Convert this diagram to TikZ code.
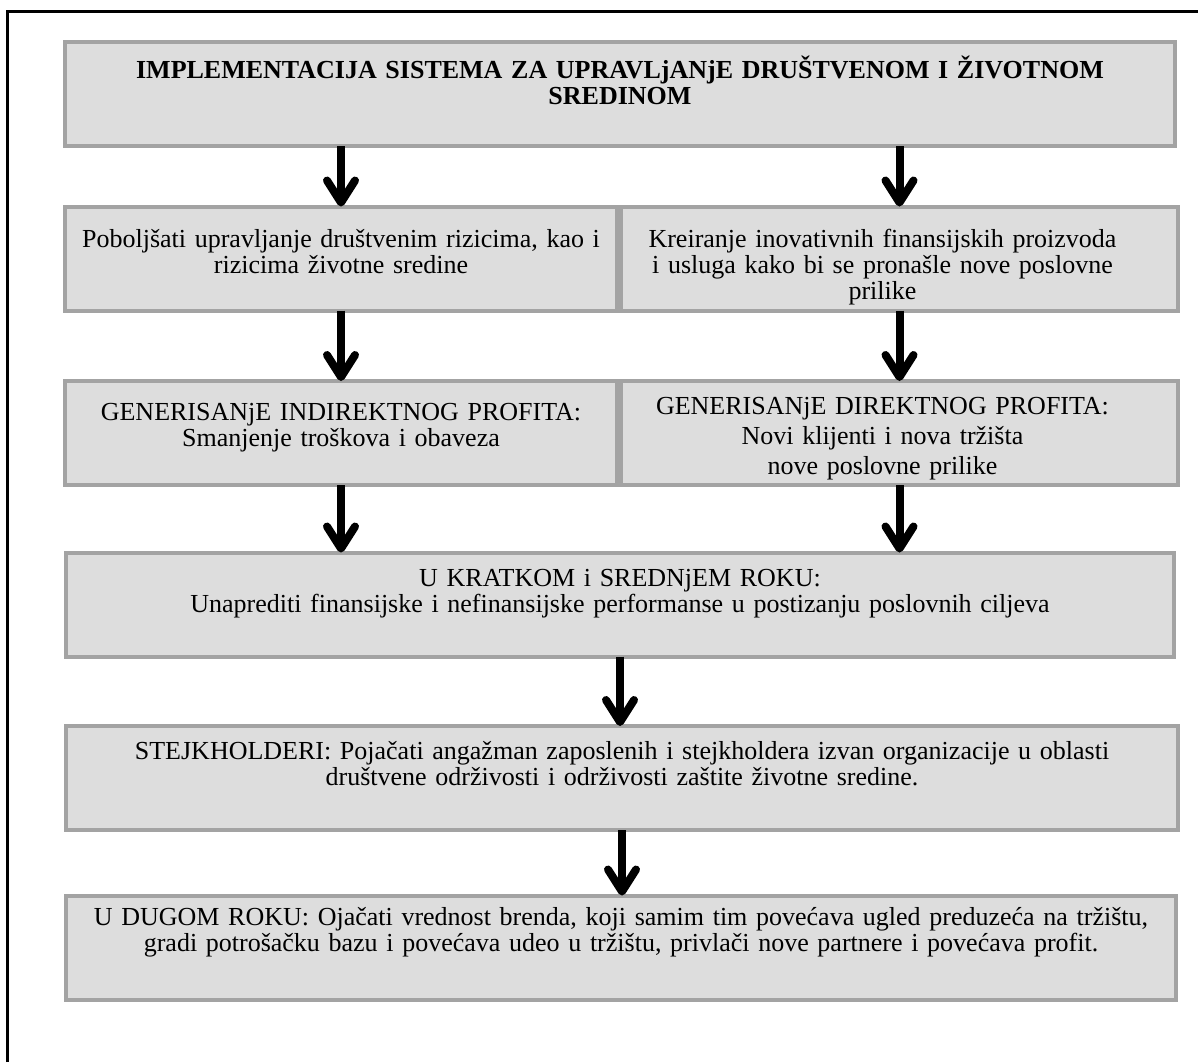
\documentclass[tikz,border=0pt]{standalone}
\usepackage{fontspec}
\setmainfont{Liberation Serif}
\usepackage{tikz}
\usetikzlibrary{arrows.meta}
\definecolor{okvir}{RGB}{163,163,163}
\definecolor{pozadina}{RGB}{221,221,221}

\begin{document}
\begin{tikzpicture}[x=0.5pt, y=-0.5pt, pomak/.initial=0pt,
	blok/.style 2 args={draw=okvir, fill=pozadina, line width=2pt, outer sep=0pt, inner sep=0pt,
		minimum width=#1, minimum height=52pt, text width=#1, font=\fontsize{13pt}{13pt}\selectfont,
		execute at begin node={\begin{minipage}[c][52pt][t]{\dimexpr\linewidth-\pgfkeysvalueof{/tikz/pomak}\relax}\centering\rule{0pt}{#2}},
		execute at end node={\end{minipage}}},
	strelica/.style={line width=4pt, -{Straight Barb[length=11pt, width=14pt, round]}}]
\useasboundingbox (0,0) rectangle (1198,1062);
\draw[line width=1.5pt] (7,1062) -- (7,11) -- (1198,11);
\node[blok={555pt}{18pt}] (vrh) at (620,94) {{\bfseries IMPLEMENTACIJA SISTEMA ZA UPRAVLjANjE DRUŠTVENOM I ŽIVOTNOM\\SREDINOM}};
\node[blok={276pt}{20.5pt}] (l1) at (341,258.5) {Poboljšati upravljanje društvenim rizicima, kao i\\rizicima životne sredine};
\node[blok={278.5pt}{20.5pt}, pomak=17pt] (d1) at (899.5,258.5) {Kreiranje inovativnih finansijskih proizvoda\\i usluga kako bi se pronašle nove poslovne\\prilike};
\node[blok={276pt}{19.5pt}] (l2) at (341,433) {GENERISANjE INDIREKTNOG PROFITA:\\Smanjenje troškova i obaveza};
\node[blok={278.5pt}{16.5pt}, pomak=17pt] (d2) at (899.5,433) {GENERISANjE DIREKTNOG PROFITA:\\[2pt]Novi klijenti i nova tržišta\\[2pt]nove poslovne prilike};
\node[blok={554pt}{17pt}] (kratko) at (620,604.5) {U KRATKOM i SREDNjEM ROKU:\\Unaprediti finansijske i nefinansijske performanse u postizanju poslovnih ciljeva};
\node[blok={556pt}{16.5pt}] (stejk) at (622,778) {STEJKHOLDERI: Pojačati angažman zaposlenih i stejkholdera izvan organizacije u oblasti\\društvene održivosti i održivosti zaštite životne sredine.};
\node[blok={555pt}{15pt}] (dugo) at (621,947.5) {U DUGOM ROKU: Ojačati vrednost brenda, koji samim tim povećava ugled preduzeća na tržištu,\\gradi potrošačku bazu i povećava udeo u tržištu, privlači nove partnere i povećava profit.};
\draw[strelica] (vrh.south -| l1.north) -- (l1.north);
\draw[strelica] (vrh.south -| d1.north) -- (d1.north);
\draw[strelica] (l1.south) -- (l2.north);
\draw[strelica] (d1.south) -- (d2.north);
\draw[strelica] (l2.south) -- (l2.south |- kratko.north);
\draw[strelica] (d2.south) -- (d2.south |- kratko.north);
\draw[strelica] (kratko.south) -- (kratko.south |- stejk.north);
\draw[strelica] (stejk.south) -- (stejk.south |- dugo.north);
\end{tikzpicture}
\end{document}
